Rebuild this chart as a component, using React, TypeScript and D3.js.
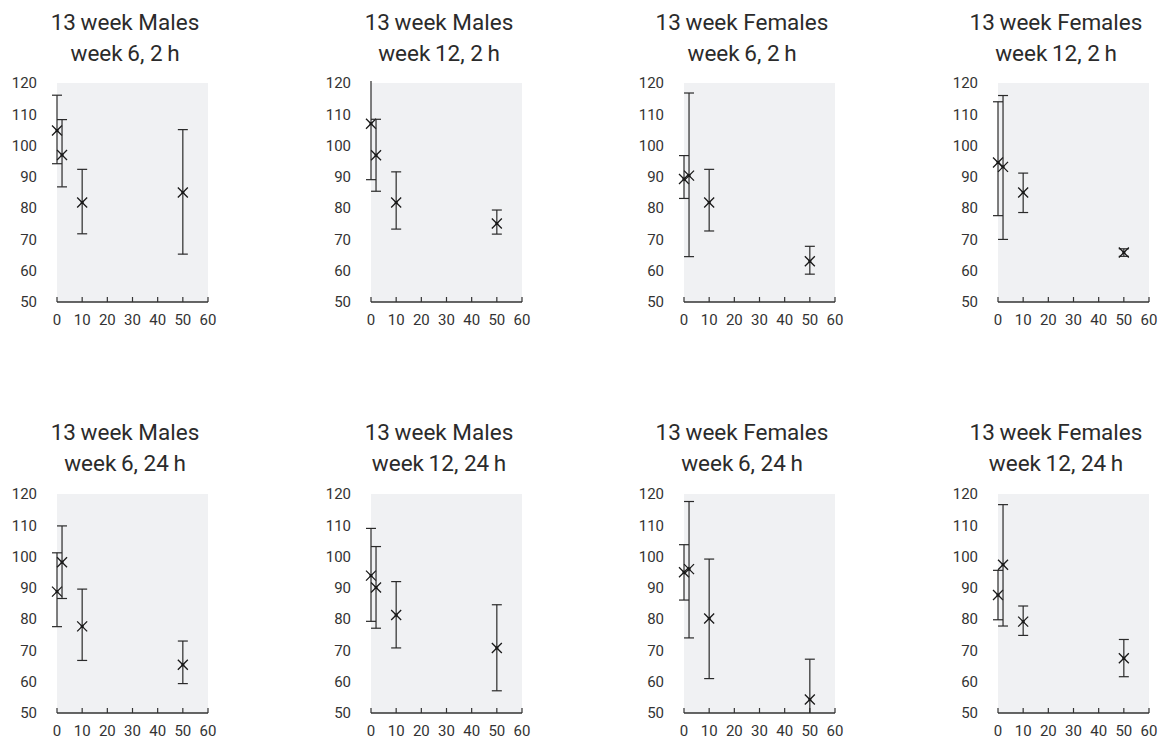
import React, { useEffect, useRef } from "react";
import * as d3 from "d3";

// dose levels on the x axis
const doses = [0, 2, 10, 50];
const xTicks = [0, 10, 20, 30, 40, 50, 60];
const yTicks = [50, 60, 70, 80, 90, 100, 110, 120];

const titlesTop = ["13\u2009week Males", "13\u2009week Males", "13\u2009week Females", "13\u2009week Females",
  "13\u2009week Males", "13\u2009week Males", "13\u2009week Females", "13\u2009week Females"];
const titlesBottom = ["week\u20096, 2\u2009h", "week\u200912, 2\u2009h", "week\u20096, 2\u2009h", "week\u200912, 2\u2009h",
  "week\u20096, 24\u2009h", "week\u200912, 24\u2009h", "week\u20096, 24\u2009h", "week\u200912, 24\u2009h"];

// mean per dose, one row per panel
const means = [
  [104.8, 97, 81.8, 85],
  [107, 96.9, 81.8, 75.1],
  [89.3, 90.4, 81.8, 63],
  [94.6, 93.2, 85, 65.8],
  [88.8, 98.2, 77.7, 65.4],
  [93.9, 90.1, 81.3, 70.8],
  [95, 96, 80.2, 54.3],
  [87.7, 97.4, 79.2, 67.5],
];
// upper end of error bar
const upper = [
  [116.1, 108.3, 92.4, 105.1],
  [126, 108.4, 91.6, 79.4],
  [96.8, 116.8, 92.4, 67.8],
  [114, 116, 91.2, 67],
  [101.2, 109.8, 89.6, 73],
  [109, 103.2, 92, 84.6],
  [103.8, 117.6, 99.2, 67.2],
  [95.6, 116.6, 84.2, 73.5],
];
// lower end of error bar
const lower = [
  [94.2, 86.8, 71.8, 65.3],
  [89.1, 85.4, 73.3, 71.7],
  [83.1, 64.5, 72.7, 58.9],
  [77.6, 70, 78.6, 64.6],
  [77.6, 86.6, 66.8, 59.4],
  [79.3, 77.1, 70.8, 57.1],
  [86.1, 74, 61, 44],
  [79.8, 77.8, 74.8, 61.6],
];

const colLeft = [57, 371, 684, 998];
const titleOffset = [68, 68, 58, 58];
const rowTop = [83, 494];
const plotW = 151;
const plotH = 219;

export default function App() {
  const ref = useRef<SVGSVGElement>(null);

  useEffect(() => {
    const svg = d3.select(ref.current);
    svg.selectAll("*").remove();

    means.forEach((m, i) => {
      const col = i % 4;
      const row = Math.floor(i / 4);
      const left = colLeft[col];
      const top = rowTop[row];
      const x = d3.scaleLinear().domain([0, 60]).range([left, left + plotW]);
      const y = d3.scaleLinear().domain([50, 120]).range([top + plotH, top]);
      const g = svg.append("g");

      g.append("rect")
        .attr("x", left).attr("y", top)
        .attr("width", plotW).attr("height", plotH)
        .attr("fill", "#f0f1f3");

      // titles
      const tx = left + titleOffset[col];
      g.append("text")
        .attr("x", tx).attr("y", top - 53 - row)
        .attr("text-anchor", "middle")
        .attr("font-size", 22.5).attr("fill", "#2b2b2b")
        .text(titlesTop[i]);
      g.append("text")
        .attr("x", tx).attr("y", top - 22 - row)
        .attr("text-anchor", "middle")
        .attr("font-size", 22.5).attr("fill", "#2b2b2b")
        .text(titlesBottom[i]);

      // y labels (no axis line)
      g.selectAll(".yl")
        .data(yTicks)
        .join("text")
        .attr("x", left - 20)
        .attr("y", d => y(d))
        .attr("dy", "0.35em")
        .attr("text-anchor", "end")
        .attr("font-size", 15).attr("fill", "#333")
        .text(d => d);

      // x axis
      const bottom = top + plotH;
      g.append("line")
        .attr("x1", x(0)).attr("x2", x(60))
        .attr("y1", bottom).attr("y2", bottom)
        .attr("stroke", "#333").attr("stroke-width", 1.5);
      g.selectAll(".xt")
        .data(xTicks)
        .join("line")
        .attr("x1", d => x(d)).attr("x2", d => x(d))
        .attr("y1", bottom).attr("y2", bottom - 5)
        .attr("stroke", "#333").attr("stroke-width", 1.2);
      g.selectAll(".xl")
        .data(xTicks)
        .join("text")
        .attr("x", d => x(d))
        .attr("y", bottom + 18)
        .attr("dy", "0.35em")
        .attr("text-anchor", "middle")
        .attr("font-size", 15).attr("fill", "#333")
        .text(d => d);

      // error bars + markers
      doses.forEach((dose, k) => {
        const cx = x(dose);
        const hi = upper[i][k];
        const lo = lower[i][k];
        const yHi = hi > 120 ? y(120) - 2 : y(hi);
        const yLo = lo < 50 ? y(50) : y(lo);
        g.append("line")
          .attr("x1", cx).attr("x2", cx)
          .attr("y1", yHi).attr("y2", yLo)
          .attr("stroke", "#2a2a2a").attr("stroke-width", 1.2);
        if (hi <= 120) {
          g.append("line")
            .attr("x1", cx - 5).attr("x2", cx + 5)
            .attr("y1", y(hi)).attr("y2", y(hi))
            .attr("stroke", "#2a2a2a").attr("stroke-width", 1.2);
        }
        if (lo >= 50) {
          g.append("line")
            .attr("x1", cx - 5).attr("x2", cx + 5)
            .attr("y1", y(lo)).attr("y2", y(lo))
            .attr("stroke", "#2a2a2a").attr("stroke-width", 1.2);
        }
        const cy = y(m[k]);
        const s = 5;
        g.append("path")
          .attr("d", `M${cx - s},${cy - s}L${cx + s},${cy + s}M${cx - s},${cy + s}L${cx + s},${cy - s}`)
          .attr("stroke", "#1a1a1a").attr("stroke-width", 1.3)
          .attr("fill", "none");
        g.append("rect")
          .attr("x", cx - 1.5).attr("y", cy - 1.5)
          .attr("width", 3).attr("height", 3)
          .attr("fill", "#1a1a1a");
      });
    });
  }, []);

  return (
    <svg
      ref={ref}
      width={1165}
      height={740}
      style={{ position: "absolute", left: 0, top: 0, fontFamily: "Roboto, sans-serif", background: "#fff" }}
    />
  );
}
